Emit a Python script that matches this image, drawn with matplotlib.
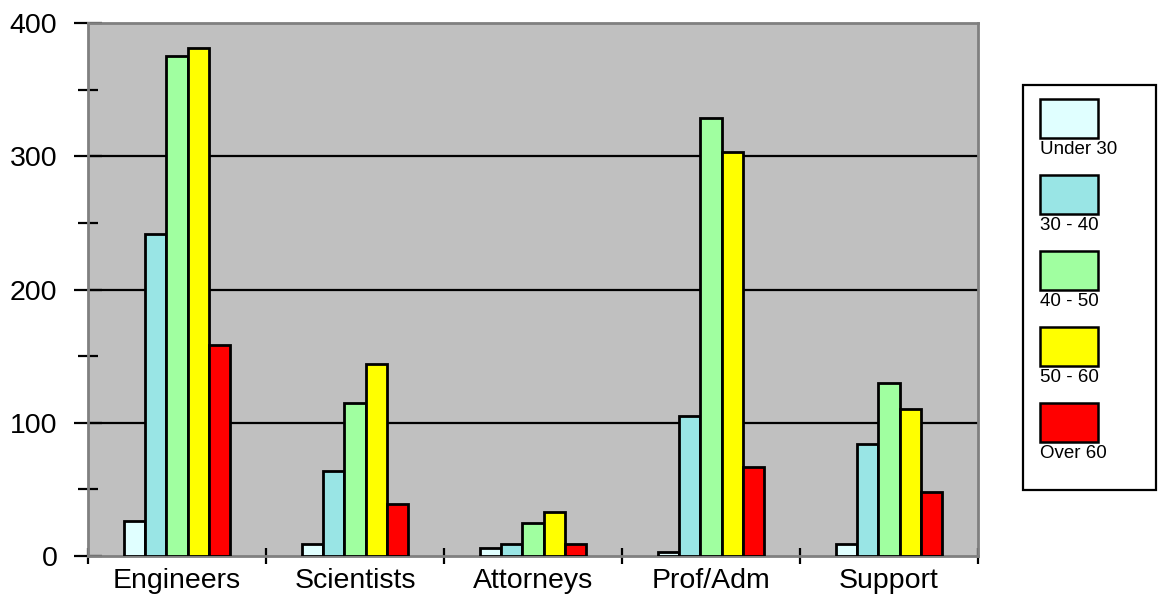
import numpy as np
import matplotlib.pyplot as plt
from matplotlib.patches import Rectangle

# ---------- DATA ----------
categories = ["Engineers", "Scientists", "Attorneys", "Prof/Adm", "Support"]
age_groups = ["Under 30", "30 - 40", "40 - 50", "50 - 60", "Over 60"]
under_30 = [26, 9, 6, 3, 9]
age_30_40 = [242, 64, 9, 105, 84]
age_40_50 = [375, 115, 25, 329, 130]
age_50_60 = [381, 144, 33, 303, 110]
over_60 = [158, 39, 9, 67, 48]
series = [under_30, age_30_40, age_40_50, age_50_60, over_60]
colors = ["#E0FFFF", "#99E5E5", "#A0FFA0", "#FFFF00", "#FF0000"]
yticks = [0, 100, 200, 300, 400]

plt.rcParams['font.family'] = ['Liberation Sans', 'DejaVu Sans']

W, H = 1159, 603
fig = plt.figure(figsize=(W / 100, H / 100), dpi=100)
ax = fig.add_axes([88 / W, (H - 556) / H, (978 - 88) / W, (556 - 23) / H])
ax.set_facecolor("#C0C0C0")

x = np.arange(len(categories))
bw = 0.118
for i, (vals, c) in enumerate(zip(series, colors)):
    ax.bar(x + (i - 2) * bw, vals, width=bw, color=c, edgecolor="black",
           linewidth=2.0, zorder=3)

ax.set_xlim(-0.5, len(categories) - 0.5)
ax.set_ylim(0, 400)

# grid lines
ax.set_axisbelow(True)
for yv in yticks[1:-1]:
    ax.axhline(yv, color="black", linewidth=1.6, zorder=1)

# y ticks
ax.set_yticks(yticks)
ax.set_yticklabels([str(v) for v in yticks], fontsize=20.5)
ax.set_yticks([50, 150, 250, 350], minor=True)
ax.tick_params(axis="y", which="major", direction="inout", length=20, width=1.6, pad=12)
ax.tick_params(axis="y", which="minor", direction="inout", length=15, width=1.6)

# x ticks: labels at centres, tick marks at boundaries
ax.set_xticks(x)
ax.set_xticklabels(categories, fontsize=20.5)
ax.set_xticks(np.arange(-0.5, len(categories)), minor=True)
ax.tick_params(axis="x", which="major", length=0, pad=9)
ax.tick_params(axis="x", which="minor", direction="inout", length=12, width=1.6)

for s in ax.spines.values():
    s.set_color("#808080")
    s.set_linewidth(2.0)

# ---------- LEGEND ----------
tf = fig.transFigure
fig.add_artist(Rectangle((1023 / W, (H - 490) / H), 133 / W, 405 / H,
                         transform=tf, facecolor="white", edgecolor="black",
                         linewidth=1.6))
for i, (lab, c) in enumerate(zip(age_groups, colors)):
    top = 99 + i * 76
    fig.add_artist(Rectangle((1040 / W, (H - top - 39) / H), 58 / W, 39 / H,
                             transform=tf, facecolor=c, edgecolor="black",
                             linewidth=1.8))
    fig.text(1040 / W, (H - top - 42) / H, lab, fontsize=13.5, va="top", ha="left")

fig.savefig("out.png", dpi=100)
